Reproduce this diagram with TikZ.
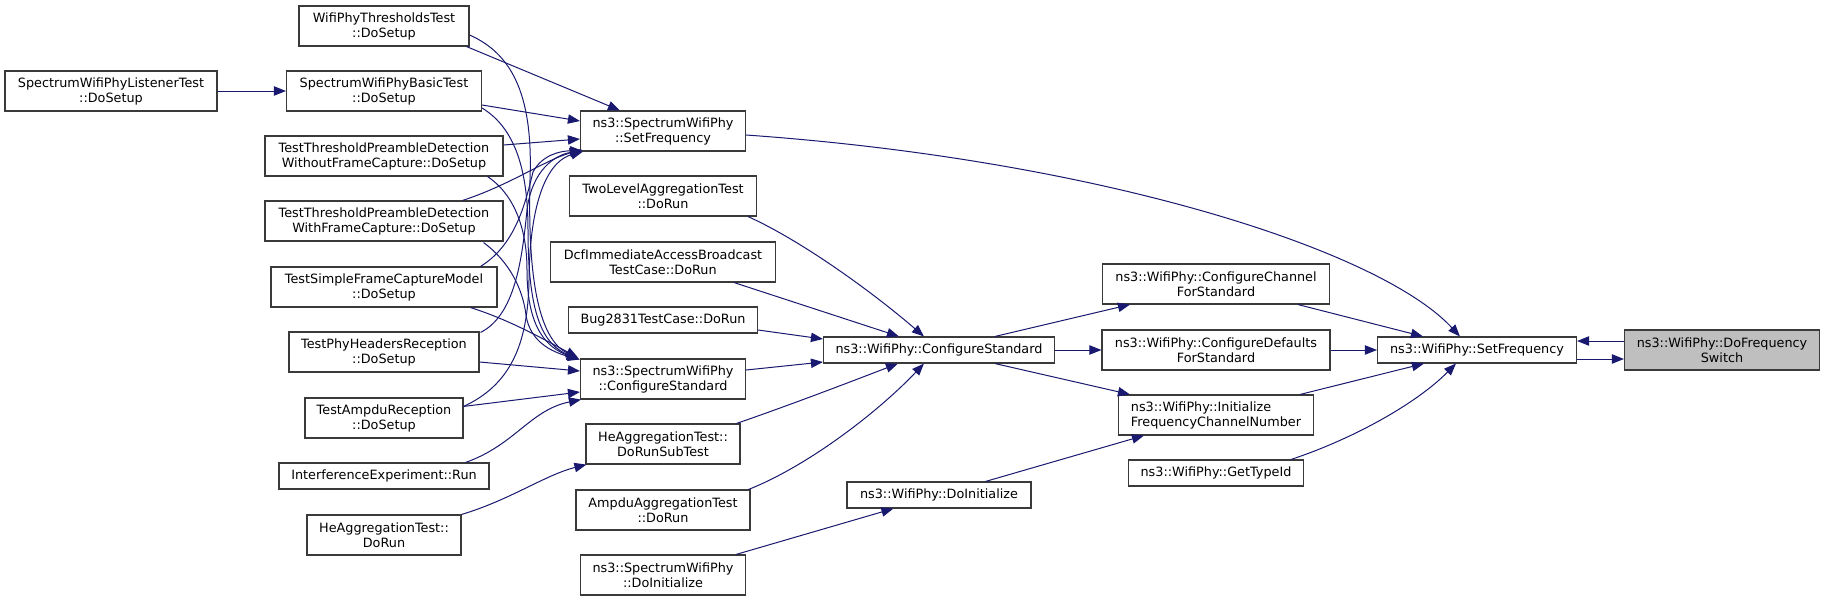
\documentclass[tikz,border=0pt]{standalone}
\usepackage{fontspec}
\newfontfamily\nodefont{DejaVu Sans}
\usetikzlibrary{calc,arrows.meta}
\definecolor{edgecol}{HTML}{191970}
\definecolor{bordercol}{HTML}{3A3A3A}
\definecolor{hilite}{HTML}{BFBFBF}
\begin{document}
\begin{tikzpicture}[x=0.75pt,y=-0.75pt,
  box/.style={draw=bordercol, line width=0.85pt, fill=white, inner sep=0pt, align=center,
    font={\nodefont\fontsize{9.6}{11.25}\selectfont}},
  sz/.style 2 args={minimum width={#1*0.75pt}, minimum height={#2*0.75pt}},
  e/.style={draw=edgecol, line width=0.75pt, -{Triangle[length=9pt,width=7pt]}}]
\fill[white] (0,0) rectangle (1825,601);
\useasboundingbox (0,0) rectangle (1825,601);
% column 0/1
\node[box,sz={212}{40}] (lst) at (111,91) {SpectrumWifiPhyListenerTest\\::DoSetup};
\node[box,sz={170}{40}] (thr) at (384,26) {WifiPhyThresholdsTest\\::DoSetup};
\node[box,sz={195}{40}] (bas) at (384,91) {SpectrumWifiPhyBasicTest\\::DoSetup};
\node[box,sz={238}{40}] (wofc) at (384,156) {TestThresholdPreambleDetection\\WithoutFrameCapture::DoSetup};
\node[box,sz={238}{40}] (wfc) at (384,221) {TestThresholdPreambleDetection\\WithFrameCapture::DoSetup};
\node[box,sz={226}{40}] (sfc) at (384,287) {TestSimpleFrameCaptureModel\\::DoSetup};
\node[box,sz={190}{40}] (phr) at (384,352) {TestPhyHeadersReception\\::DoSetup};
\node[box,sz={158}{40}] (amr) at (384,418) {TestAmpduReception\\::DoSetup};
\node[box,sz={210}{26}] (ife) at (384,476) {InterferenceExperiment::Run};
\node[box,sz={154}{40}] (hed) at (384,535) {HeAggregationTest::\\DoRun};
% column 2
\node[box,sz={165}{40}] (ssf) at (663,131) {ns3::SpectrumWifiPhy\\::SetFrequency};
\node[box,sz={187}{40}] (tla) at (663,196) {TwoLevelAggregationTest\\::DoRun};
\node[box,sz={225}{40}] (dcf) at (663,262) {DcfImmediateAccessBroadcast\\TestCase::DoRun};
\node[box,sz={189}{26}] (bug) at (663,320) {Bug2831TestCase::DoRun};
\node[box,sz={165}{40}] (scs) at (663,379) {ns3::SpectrumWifiPhy\\::ConfigureStandard};
\node[box,sz={154}{40}] (hst) at (663,444) {HeAggregationTest::\\DoRunSubTest};
\node[box,sz={174}{40}] (aag) at (663,510) {AmpduAggregationTest\\::DoRun};
\node[box,sz={165}{40}] (sdi) at (663,575) {ns3::SpectrumWifiPhy\\::DoInitialize};
% column 3
\node[box,sz={231}{26}] (wcs) at (939,350) {ns3::WifiPhy::ConfigureStandard};
\node[box,sz={184}{26}] (wdi) at (939,495) {ns3::WifiPhy::DoInitialize};
% column 4
\node[box,sz={227}{40}] (ccs) at (1216,284) {ns3::WifiPhy::ConfigureChannel\\ForStandard};
\node[box,sz={228}{40}] (cds) at (1216,350) {ns3::WifiPhy::ConfigureDefaults\\ForStandard};
\node[box,sz={195}{40},align=left] (ifc) at (1216,415) {ns3::WifiPhy::Initialize\\FrequencyChannelNumber};
\node[box,sz={175}{26}] (gti) at (1216,473) {ns3::WifiPhy::GetTypeId};
% column 5
\node[box,sz={199}{26}] (wsf) at (1477,350) {ns3::WifiPhy::SetFrequency};
\node[box,sz={195}{40},fill=hilite] (dfs) at (1722,350) {ns3::WifiPhy::DoFrequency\\Switch};

% edges
\draw[e] (lst.east) -- (bas.west);
\draw[e] ($(thr.south east)+(-3,0)$) -- ($(ssf.north west)+(40,0)$);
\draw[e] ($(thr.east)+(0,9)$) .. controls (515,55) and (533,100) .. (530,180)
  .. controls (527,300) and (545,342) .. ($(scs.north west)+(-2,0)$);
\draw[e] ($(bas.east)+(0,14)$) -- ($(ssf.west)+(0,-10)$);
\draw[e] ($(bas.east)+(0,17)$) .. controls (515,128) and (528,170) .. (528,230)
  .. controls (528,320) and (545,345) .. ($(scs.north west)+(-1,1)$);
\draw[e] ($(wofc.east)+(0,-11)$) -- ($(ssf.west)+(0,8)$);
\draw[e] ($(wofc.south east)+(-16,0)$) .. controls (515,195) and (527,230) .. (527,270)
  .. controls (527,330) and (548,348) .. ($(scs.north west)+(-1,1)$);
\draw[e] ($(wfc.north east)+(-41,0)$) .. controls (510,185) and (545,160) .. ($(ssf.south west)+(2,-2)$);
\draw[e] ($(wfc.south east)+(-20,1)$) .. controls (510,262) and (523,290) .. (526,315)
  .. controls (530,342) and (552,352) .. ($(scs.north west)+(0,1)$);
\draw[e] ($(sfc.north east)+(-17,0)$) .. controls (515,245) and (525,205) .. (533,172)
  .. controls (542,155) and (560,151) .. ($(ssf.south west)+(2,-1)$);
\draw[e] ($(sfc.south east)+(-27,0)$) .. controls (510,320) and (545,340) .. ($(scs.north west)+(-2,-1)$);
\draw[e] ($(phr.north east)+(1,1)$) .. controls (515,315) and (522,260) .. (527,210)
  .. controls (532,170) and (555,155) .. ($(ssf.south west)+(2,-1)$);
\draw[e] ($(phr.east)+(0,10)$) -- ($(scs.west)+(0,-8)$);
\draw[e] ($(amr.north east)+(0,9)$) .. controls (510,385) and (528,345) .. (529,280)
  .. controls (530,190) and (552,160) .. ($(ssf.south west)+(3,0)$);
\draw[e] ($(amr.north east)+(0,9)$) -- ($(scs.west)+(0,13)$);
\draw[e] ($(ife.north east)+(-24,0)$) .. controls (515,445) and (530,410) .. ($(scs.south west)+(1,0)$);
\draw[e] (hed.north east) .. controls (510,500) and (545,475) .. ($(hst.south west)+(1,0)$);
\draw[e] ($(ssf.east)+(0,4)$) .. controls (1100,160) and (1380,250) .. ($(wsf.north west)+(83,0)$);
\draw[e] ($(tla.south east)+(-9,0)$) .. controls (800,240) and (870,290) .. ($(wcs.north west)+(101,0)$);
\draw[e] ($(dcf.south east)+(-42,0)$) -- ($(wcs.north west)+(76,0)$);
\draw[e] ($(bug.east)+(0,10)$) -- ($(wcs.west)+(0,-11)$);
\draw[e] ($(scs.east)+(0,-9)$) -- ($(wcs.west)+(0,12)$);
\draw[e] ($(hst.north east)+(-4,0)$) .. controls (790,405) and (850,382) .. ($(wcs.south west)+(75,0)$);
\draw[e] ($(aag.north east)+(-2,0)$) .. controls (810,465) and (880,410) .. ($(wcs.south west)+(101,0)$);
\draw[e] ($(sdi.north east)+(-10,0)$) -- ($(wdi.south west)+(47,0)$);
\draw[e] ($(wcs.north east)+(-60,0)$) -- ($(ccs.south west)+(28,0)$);
\draw[e] (wcs.east) -- (cds.west);
\draw[e] ($(wcs.south east)+(-60,0)$) -- ($(ifc.north west)+(12,0)$);
\draw[e] ($(wdi.north east)+(-46,0)$) -- ($(ifc.south west)+(26,0)$);
\draw[e] ($(ccs.south east)+(-32,0)$) -- ($(wsf.north west)+(46,0)$);
\draw[e] (cds.east) -- (wsf.west);
\draw[e] ($(ifc.north east)+(-14,0)$) -- ($(wsf.south west)+(47,0)$);
\draw[e] ($(gti.north east)+(-13,0)$) .. controls (1350,440) and (1415,405) .. ($(wsf.south west)+(79,0)$);
\draw[e] ($(dfs.west)+(0,-9)$) -- ($(wsf.east)+(0,-9)$);
\draw[e] ($(wsf.east)+(0,9)$) -- ($(dfs.west)+(0,9)$);
\end{tikzpicture}
\end{document}
